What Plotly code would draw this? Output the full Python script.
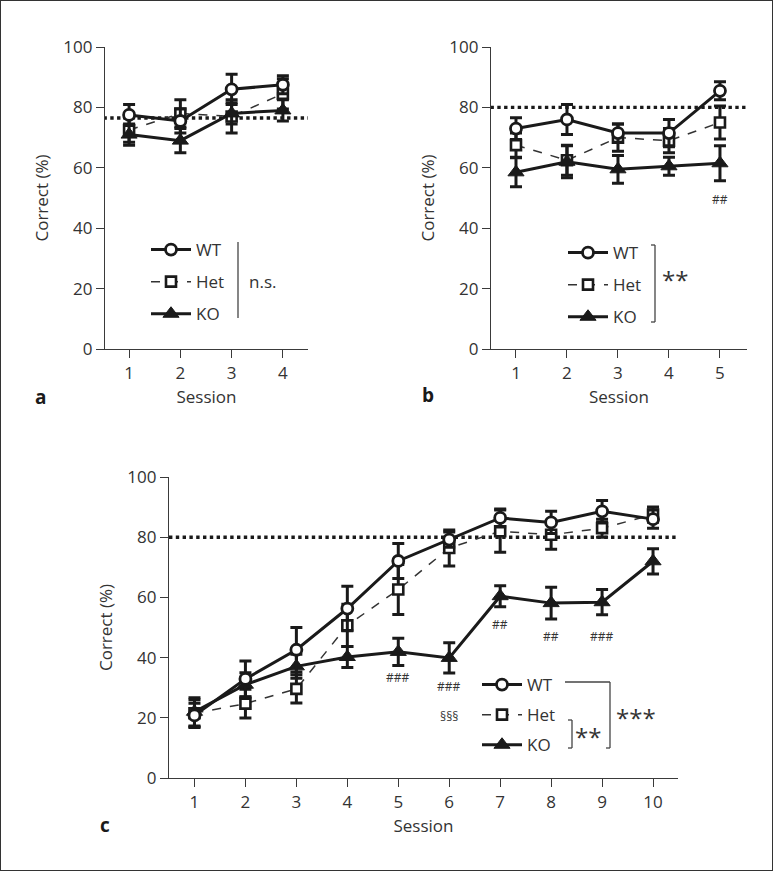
import plotly.graph_objects as go

W, H = 773, 871

# ---- data -------------------------------------------------------------
A_SESSIONS = [1, 2, 3, 4]
A_WT = [77.5, 75.5, 86.0, 87.5]
A_WT_SEM = [3.5, 4.0, 5.0, 3.0]
A_HET = [72.5, 78.0, 77.0, 84.5]
A_HET_SEM = [4.0, 4.5, 5.5, 5.0]
A_KO = [71.0, 69.0, 78.0, 79.0]
A_KO_SEM = [3.5, 4.0, 3.5, 3.5]

B_SESSIONS = [1, 2, 3, 4, 5]
B_WT = [73.0, 76.0, 71.5, 71.5, 85.5]
B_WT_SEM = [3.6, 5.0, 3.0, 4.5, 3.0]
B_HET = [67.5, 62.5, 70.0, 69.0, 75.0]
B_HET_SEM = [4.0, 5.0, 4.5, 4.0, 5.5]
B_KO = [58.5, 62.0, 59.5, 60.5, 61.5]
B_KO_SEM = [4.8, 5.3, 4.6, 3.0, 5.8]

C_SESSIONS = [1, 2, 3, 4, 5, 6, 7, 8, 9, 10]
C_WT = [20.8, 32.9, 42.6, 56.3, 72.1, 79.2, 86.4, 84.9, 88.6, 86.0]
C_WT_SEM = [4.0, 6.0, 7.4, 7.4, 5.8, 2.5, 3.0, 3.7, 3.6, 3.0]
C_HET = [21.5, 24.7, 29.6, 50.7, 62.6, 76.4, 82.0, 80.8, 83.0, 87.5]
C_HET_SEM = [4.5, 4.8, 4.7, 7.0, 8.3, 6.0, 7.0, 4.8, 3.0, 2.5]
C_KO = [22.0, 31.0, 37.1, 40.2, 41.9, 39.9, 60.4, 58.1, 58.4, 72.0]
C_KO_SEM = [4.7, 4.0, 4.0, 3.5, 4.5, 5.0, 3.5, 5.3, 4.2, 4.2]

CRITERION = [76.5, 80, 80]  # dotted reference line per panel

B_MARK_X = [5]
B_MARK_Y = [49.4]
B_MARK_TXT = ["##"]

C_MARK_X = [5, 6, 6, 7, 8, 9]
C_MARK_Y = [33.3, 30.4, 20.5, 50.9, 47.0, 47.0]
C_MARK_TXT = ["###", "###", "§§§", "##", "##", "###"]

# ---- style ------------------------------------------------------------
INK = "#1a1a1a"
AXC = "#3a3a3a"
TXT = "#333333"
FONT = "Open Sans, DejaVu Sans, sans-serif"

STYLE = {
    "WT": dict(line=dict(color=INK, width=3),
               marker=dict(symbol="circle", size=11, color="white",
                           line=dict(color=INK, width=2.8))),
    "Het": dict(line=dict(color=TXT, width=1.5, dash="dash"),
                marker=dict(symbol="square", size=10, color="white",
                            line=dict(color=INK, width=2.6))),
    "KO": dict(line=dict(color=INK, width=3),
               marker=dict(symbol="triangle-up", size=14, color=INK,
                           line=dict(color=INK, width=1))),
}
RANK = {"WT": 1, "Het": 2, "KO": 3}


def px(x):
    return x / W


def py(y):
    return 1 - y / H


fig = go.Figure()

panels = [
    ("x", "y", "legend", A_SESSIONS,
     {"WT": (A_WT, A_WT_SEM), "Het": (A_HET, A_HET_SEM), "KO": (A_KO, A_KO_SEM)}),
    ("x2", "y2", "legend2", B_SESSIONS,
     {"WT": (B_WT, B_WT_SEM), "Het": (B_HET, B_HET_SEM), "KO": (B_KO, B_KO_SEM)}),
    ("x3", "y3", "legend3", C_SESSIONS,
     {"WT": (C_WT, C_WT_SEM), "Het": (C_HET, C_HET_SEM), "KO": (C_KO, C_KO_SEM)}),
]

for (xa, ya, leg, sess, series), crit in zip(panels, CRITERION):
    fig.add_trace(go.Scatter(
        x=[sess[0] - 0.5, sess[-1] + 0.5], y=[crit, crit], mode="lines",
        line=dict(color=INK, width=3.4, dash="dot"), showlegend=False,
        hoverinfo="skip", xaxis=xa, yaxis=ya, cliponaxis=False))
    for name in ("Het", "KO", "WT"):
        vals, sem = series[name]
        fig.add_trace(go.Scatter(
            x=sess, y=vals, name=name, mode="lines+markers",
            error_y=dict(type="data", array=sem, color=INK, thickness=3, width=6),
            legend=leg, legendgroup=name, legendrank=RANK[name],
            xaxis=xa, yaxis=ya, cliponaxis=False, **STYLE[name]))

# ---- axes -------------------------------------------------------------
axis = dict(showline=True, linecolor=AXC, linewidth=1.3, ticks="outside",
            ticklen=8, tickwidth=1.3, tickcolor=AXC, showgrid=False,
            zeroline=False, automargin=False,
            tickfont=dict(size=17, color=TXT),
            title_font=dict(size=17, color=TXT))

# domains measured in pixels from the reference
fig.update_layout(
    xaxis=dict(axis, domain=[px(105), px(308)], range=[0.53, 4.49],
               tickvals=A_SESSIONS, anchor="y",
               title=dict(text="Session", standoff=8)),
    yaxis=dict(axis, domain=[py(349), py(47)], range=[0, 100], dtick=20,
               anchor="x", title=dict(text="Correct (%)", standoff=10)),
    xaxis2=dict(axis, domain=[px(491), px(747)], range=[0.51, 5.53],
                tickvals=B_SESSIONS, anchor="y2",
                title=dict(text="Session", standoff=8)),
    yaxis2=dict(axis, domain=[py(349), py(47)], range=[0, 100], dtick=20,
                anchor="x2", title=dict(text="Correct (%)", standoff=10)),
    xaxis3=dict(axis, domain=[px(169), px(678)], range=[0.5, 10.49],
                tickvals=C_SESSIONS, anchor="y3",
                title=dict(text="Session", standoff=8)),
    yaxis3=dict(axis, domain=[py(778), py(477)], range=[0, 100], dtick=20,
                anchor="x3", title=dict(text="Correct (%)", standoff=10)),
)

leg_base = dict(font=dict(size=17, color=TXT, family=FONT),
                bgcolor="rgba(0,0,0,0)", borderwidth=0,
                traceorder="grouped", itemwidth=40,
                xanchor="left", yanchor="top", itemclick=False)
fig.update_layout(
    legend=dict(leg_base, x=px(146), y=py(232), tracegroupgap=7),
    legend2=dict(leg_base, x=px(563), y=py(235), tracegroupgap=7),
    legend3=dict(leg_base, x=px(477), y=py(667), tracegroupgap=5),
)

# ---- brackets / significance -----------------------------------------
br = dict(type="line", xref="paper", yref="paper",
          line=dict(color="#444444", width=1.3))
segs = [
    (238, 242, 238, 318),                                    # a
    (655, 245, 655, 322), (651, 245, 655, 245), (651, 322, 655, 322),  # b
    (565, 682, 610, 682), (610, 682, 610, 748), (606, 748, 610, 748),  # c outer
    (572, 720, 572, 748), (568, 720, 572, 720), (568, 748, 572, 748),  # c inner
]
for x0, y0, x1, y1 in segs:
    fig.add_shape(br, x0=px(x0), y0=py(y0), x1=px(x1), y1=py(y1))

fig.add_shape(type="rect", xref="paper", yref="paper", x0=0, y0=0, x1=1, y1=1,
              line=dict(color=TXT, width=2))

ann = dict(xref="paper", yref="paper", showarrow=False,
           xanchor="center", yanchor="middle",
           font=dict(family=FONT, color=TXT))
fig.add_annotation(ann, x=px(262), y=py(282), text="n.s.", font_size=17)
fig.add_annotation(ann, x=px(675), y=py(279), text="**", font_size=24)
fig.add_annotation(ann, x=px(636), y=py(717), text="***", font_size=24)
fig.add_annotation(ann, x=px(588), y=py(736), text="**", font_size=24)

for lab, x, y in (("a", 40, 397), ("b", 428, 395), ("c", 105, 825)):
    fig.add_annotation(ann, x=px(x), y=py(y), text=f"<b>{lab}</b>",
                       font=dict(size=19, color=INK, family=FONT))

for x, y, t in zip(B_MARK_X, B_MARK_Y, B_MARK_TXT):
    fig.add_annotation(x=x, y=y, xref="x2", yref="y2", text=t, showarrow=False,
                       font=dict(size=12, color=TXT, family=FONT))
for x, y, t in zip(C_MARK_X, C_MARK_Y, C_MARK_TXT):
    fig.add_annotation(x=x, y=y, xref="x3", yref="y3", text=t, showarrow=False,
                       font=dict(size=12, color=TXT, family=FONT))

fig.update_layout(
    width=W, height=H, margin=dict(l=0, r=0, t=0, b=0, autoexpand=False),
    paper_bgcolor="white", plot_bgcolor="white",
    font=dict(family=FONT, size=17, color=TXT),
    showlegend=True, hovermode="closest",
)

# pin the plot to the top-left corner of the page
pin = ("document.body.style.margin='0';"
       "document.documentElement.style.overflow='hidden';"
       "var d=document.getElementById('{plot_id}');"
       "d.style.position='fixed';d.style.top='0';d.style.left='0';")
fig.write_html("out.html", config={"displayModeBar": False}, post_script=pin)
